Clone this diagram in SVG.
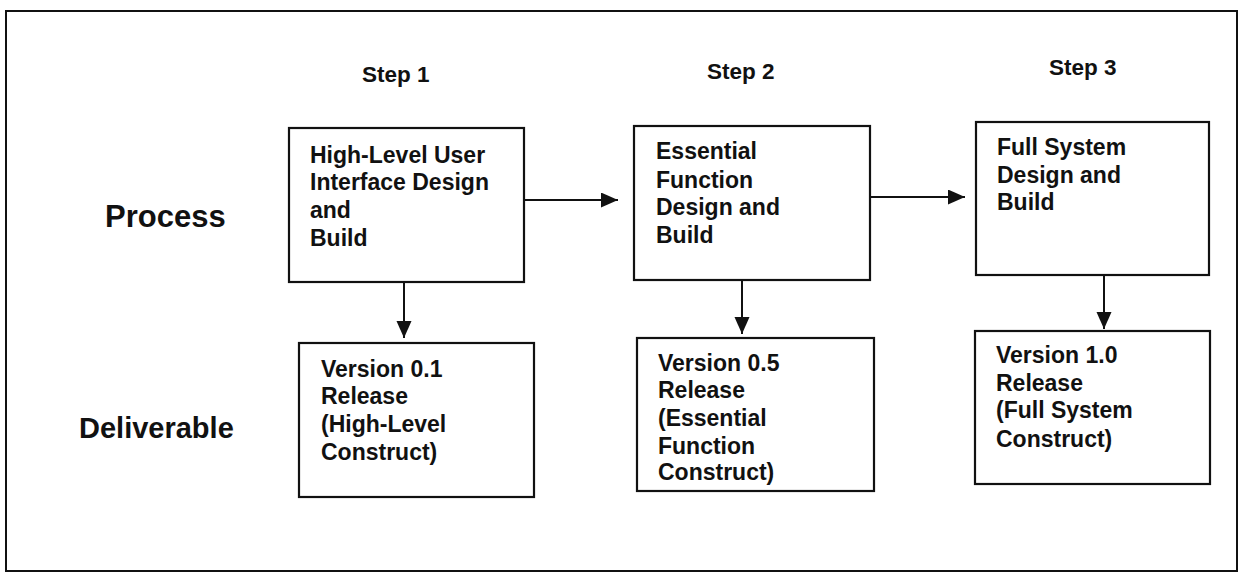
<svg xmlns="http://www.w3.org/2000/svg" width="1243" height="574" viewBox="0 0 1243 574">
<style>
.box{fill:#fff;stroke:#111;stroke-width:2.2}
.frame{fill:none;stroke:#111;stroke-width:2}
.t{font-family:"Liberation Sans",Arial,sans-serif;font-weight:bold;font-size:23px;fill:#111}
.step{font-family:"Liberation Sans",Arial,sans-serif;font-weight:bold;font-size:22.5px;fill:#111}
.big{font-family:"Liberation Sans",Arial,sans-serif;font-weight:bold;fill:#111}
.conn{stroke:#111;stroke-width:2;fill:none;marker-end:url(#ah)}
</style>
<defs>
<marker id="ah" markerUnits="userSpaceOnUse" markerWidth="18" markerHeight="16" refX="17" refY="7.5" orient="auto">
<path d="M0,0 L17,7.5 L0,15 z" fill="#111"/>
</marker>
</defs>
<rect width="1243" height="574" fill="#fff"/>
<rect class="frame" x="6" y="11" width="1231" height="560"/>
<g id="labels">
<text class="step" x="362" y="82">Step 1</text>
<text class="step" x="707" y="79">Step 2</text>
<text class="step" x="1049" y="75">Step 3</text>
<text class="big" x="105" y="227" font-size="31">Process</text>
<text class="big" x="79" y="438" font-size="29">Deliverable</text>
</g>
<g id="connectors">
<line class="conn" x1="524" y1="200" x2="618" y2="200"/>
<line class="conn" x1="870" y1="197" x2="965" y2="197"/>
<line class="conn" x1="404" y1="282" x2="404" y2="338"/>
<line class="conn" x1="742" y1="280" x2="742" y2="334"/>
<line class="conn" x1="1104" y1="275" x2="1104" y2="329"/>
</g>
<g id="p1">
<rect class="box" x="289" y="128" width="235" height="154"/>
<text class="t" x="310" y="163">High-Level User</text>
<text class="t" x="310" y="190">Interface Design</text>
<text class="t" x="310" y="218">and</text>
<text class="t" x="310" y="246">Build</text>
</g>
<g id="p2">
<rect class="box" x="634" y="126" width="236" height="154"/>
<text class="t" x="656" y="159">Essential</text>
<text class="t" x="656" y="188">Function</text>
<text class="t" x="656" y="215">Design and</text>
<text class="t" x="656" y="243">Build</text>
</g>
<g id="p3">
<rect class="box" x="976" y="122" width="233" height="153"/>
<text class="t" x="997" y="155">Full System</text>
<text class="t" x="997" y="183">Design and</text>
<text class="t" x="997" y="210">Build</text>
</g>
<g id="d1">
<rect class="box" x="299" y="343" width="235" height="154"/>
<text class="t" x="321" y="377">Version 0.1</text>
<text class="t" x="321" y="404">Release</text>
<text class="t" x="321" y="432">(High-Level</text>
<text class="t" x="321" y="460">Construct)</text>
</g>
<g id="d2">
<rect class="box" x="637" y="338" width="237" height="153"/>
<text class="t" x="658" y="371">Version 0.5</text>
<text class="t" x="658" y="398">Release</text>
<text class="t" x="658" y="426">(Essential</text>
<text class="t" x="658" y="454">Function</text>
<text class="t" x="658" y="480">Construct)</text>
</g>
<g id="d3">
<rect class="box" x="975" y="331" width="235" height="153"/>
<text class="t" x="996" y="363">Version 1.0</text>
<text class="t" x="996" y="391">Release</text>
<text class="t" x="996" y="418">(Full System</text>
<text class="t" x="996" y="447">Construct)</text>
</g>
</svg>
